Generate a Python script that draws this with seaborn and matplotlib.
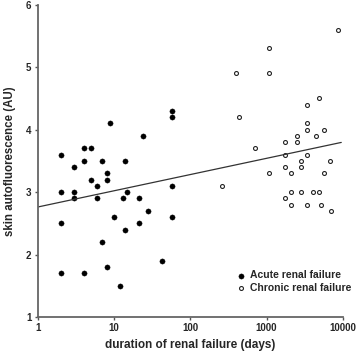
import numpy as np
import pandas as pd
import seaborn as sns
import matplotlib.pyplot as plt

# Acute renal failure (days, AU)
acute_days = [2, 2, 2, 2, 3, 3, 3, 4, 4, 4, 5, 5, 6, 6, 7, 7, 8, 8, 8, 9,
              10, 12, 13, 14, 14, 15, 21, 21, 24, 28, 43, 58, 58, 58, 58]
acute_af = [3.6, 3.0, 2.5, 1.7, 3.4, 3.0, 2.9, 3.7, 3.5, 1.7, 3.7, 3.2, 3.1, 2.9,
            3.5, 2.2, 3.3, 3.2, 1.8, 4.1, 2.6, 1.5, 2.9, 3.5, 2.4, 3.0, 2.9, 2.5,
            3.9, 2.7, 1.9, 4.3, 4.2, 3.1, 2.6]

# Chronic renal failure (days, AU)
chronic_days = [260, 400, 440, 700, 1060, 1060, 1060, 1750, 1750, 1750, 1750,
                2100, 2100, 2100, 2500, 2500, 2800, 2800, 2800, 3400, 3400, 3400,
                3400, 3400, 4100, 4500, 4850, 4850, 5200, 5600, 5600, 6700, 6900,
                8700]
chronic_af = [3.1, 4.9, 4.2, 3.7, 5.3, 4.9, 3.3, 3.8, 3.6, 3.4, 2.9,
              3.3, 3.0, 2.8, 3.9, 3.8, 3.5, 3.4, 3.0, 4.4, 4.1, 4.0,
              3.6, 2.8, 3.0, 3.9, 4.5, 3.0, 2.8, 4.0, 3.3, 3.5, 2.7,
              5.6]

# regression line: af = a + b*log10(days)
fit_intercept = 2.76
fit_slope = 0.26
fit_range = [1, 9500]

x_ticks = [1, 10, 100, 1000, 10000]
y_ticks = [1, 2, 3, 4, 5, 6]

df = pd.concat([
    pd.DataFrame({'days': acute_days, 'af': acute_af, 'group': 'Acute renal failure'}),
    pd.DataFrame({'days': chronic_days, 'af': chronic_af, 'group': 'Chronic renal failure'}),
])

sns.set_style('white')
plt.rcParams['font.family'] = ['Liberation Sans', 'DejaVu Sans']
plt.rcParams['font.weight'] = 'bold'

fig = plt.figure(figsize=(3.58, 3.52), dpi=100)
ax = fig.add_axes([0.105, 0.0994, 0.853, 0.8875])

acute = df[df.group == 'Acute renal failure']
chronic = df[df.group == 'Chronic renal failure']
sns.scatterplot(x='days', y='af', data=acute, ax=ax, color='black', s=14,
                edgecolor='black', linewidth=0.3, label='Acute renal failure')
sns.scatterplot(x='days', y='af', data=chronic, ax=ax, facecolor='white', s=8,
                edgecolor='#222222', linewidth=0.8, label='Chronic renal failure')

line_x = np.logspace(np.log10(fit_range[0]), np.log10(fit_range[1]), 50)
sns.lineplot(x=line_x, y=fit_intercept + fit_slope * np.log10(line_x), ax=ax,
             color='#333333', linewidth=0.9)

ax.set_xscale('log')
ax.set_xlim(1, 10000)
ax.set_ylim(1, 6)
ax.set_xticks(x_ticks)
ax.set_xticklabels([str(t) for t in x_ticks])
ax.set_yticks(y_ticks)
ax.minorticks_off()
ax.tick_params(axis='both', length=2.5, width=1, color='#555555', pad=2,
               labelsize=7, direction='out', left=True, bottom=True)
for lab in ax.get_xticklabels() + ax.get_yticklabels():
    lab.set_fontweight('bold')

for side in ['top', 'right']:
    ax.spines[side].set_visible(False)
for side in ['left', 'bottom']:
    ax.spines[side].set_color('#666666')
    ax.spines[side].set_linewidth(1.3)

ax.set_xlabel('duration of renal failure (days)', fontsize=8.5, fontweight='bold', labelpad=4)
ax.set_ylabel('skin autofluorescence (AU)', fontsize=8.3, fontweight='bold', labelpad=7)

leg = ax.legend(loc='upper left', bbox_to_anchor=(0.66, 0.232),
                bbox_transform=fig.transFigure, frameon=False,
                fontsize=7.5, handlelength=1.0, handletextpad=0.3,
                labelspacing=0.25, borderaxespad=0, borderpad=0)
for t in leg.get_texts():
    t.set_fontweight('bold')

fig.savefig('out.png', dpi=100)
